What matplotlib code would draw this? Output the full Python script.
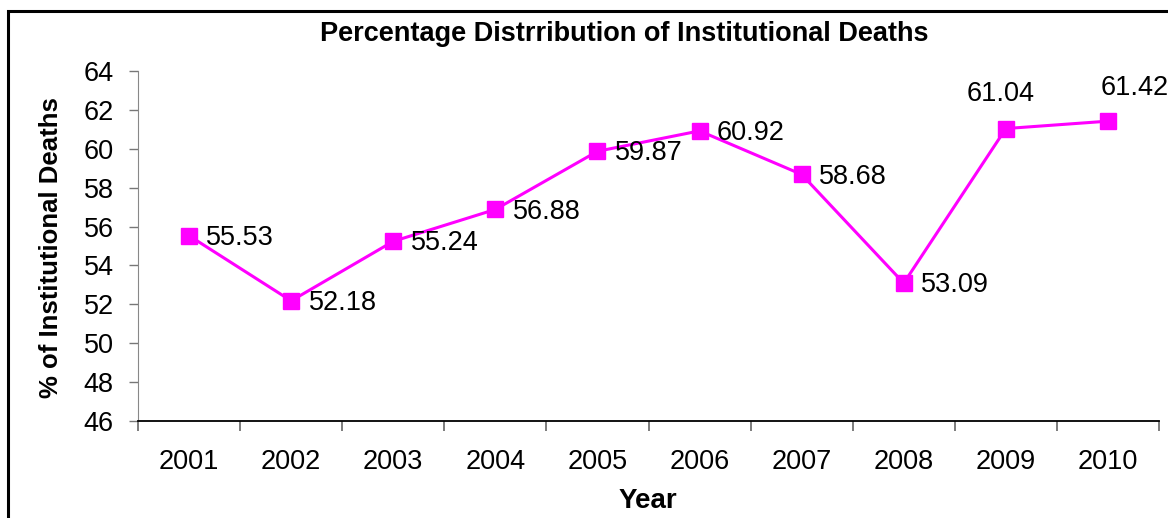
import matplotlib
matplotlib.use("Agg")
import matplotlib.pyplot as plt
from matplotlib.patches import Rectangle

years = ["2001", "2002", "2003", "2004", "2005", "2006", "2007", "2008", "2009", "2010"]
values = [55.53, 52.18, 55.24, 56.88, 59.87, 60.92, 58.68, 53.09, 61.04, 61.42]
yticks = [46, 48, 50, 52, 54, 56, 58, 60, 62, 64]

plt.rcParams['font.family'] = ['Liberation Sans', 'DejaVu Sans']

W, H = 1168, 518
fig = plt.figure(figsize=(W / 100, H / 100), dpi=100)
ax = fig.add_axes([138 / W, 1 - 421 / H, (1159 - 138) / W, (421 - 71) / H])

x = list(range(len(years)))
ax.plot(x, values, color='#FF00FF', lw=2.2, marker='s', markersize=12,
        markerfacecolor='#FF00FF', markeredgecolor='#FF00FF', zorder=3, clip_on=False)

for i, v in enumerate(values):
    if i >= 8:
        dx = -4 if i == 8 else 19
        dy = 25 if i == 8 else 24
        ax.annotate(f"{v:.2f}", (i, v), xytext=(dx, dy), textcoords='offset points',
                    ha='center', va='center', fontsize=19.5, annotation_clip=False)
    else:
        ax.annotate(f"{v:.2f}", (i, v), xytext=(12.5, -1.5), textcoords='offset points',
                    ha='left', va='center', fontsize=19.5, annotation_clip=False)

ax.set_xlim(-0.5, len(years) - 0.5)
ax.set_ylim(46, 64)
ax.set_yticks(yticks)
ax.set_yticklabels([str(t) for t in yticks], fontsize=19.5)
ax.set_xticks(x)
ax.set_xticklabels(years, fontsize=19.5)
ax.set_xticks([i - 0.5 for i in range(len(years) + 1)], minor=True)
ax.tick_params(axis='x', which='major', length=0, pad=20)
ax.tick_params(axis='x', which='minor', length=7, width=1.2, color='#666666')
ax.tick_params(axis='y', which='major', length=6.5, width=1, color='#777777', pad=11)

for s in ['top', 'right']:
    ax.spines[s].set_visible(False)
ax.spines['left'].set_color('#888888')
ax.spines['bottom'].set_color('black')
ax.spines['bottom'].set_linewidth(1.3)

fig.text(648 / W, 1 - 501 / H, "Year", ha='center', va='center',
         fontsize=20, fontweight='bold')
fig.text(51 / W, 1 - 248 / H, "% of Institutional Deaths", ha='center', va='center',
         rotation=90, fontsize=18.5, fontweight='bold')
fig.text(624 / W, 1 - 34 / H, "Percentage Distrribution of Institutional Deaths",
         ha='center', va='center', fontsize=19.5, fontweight='bold')

fig.patches.append(Rectangle((8 / W, -0.2), 1.2, 1.2 - 11 / H, transform=fig.transFigure,
                             fill=False, edgecolor='black', lw=2.2))

fig.savefig("out.png", dpi=100)
